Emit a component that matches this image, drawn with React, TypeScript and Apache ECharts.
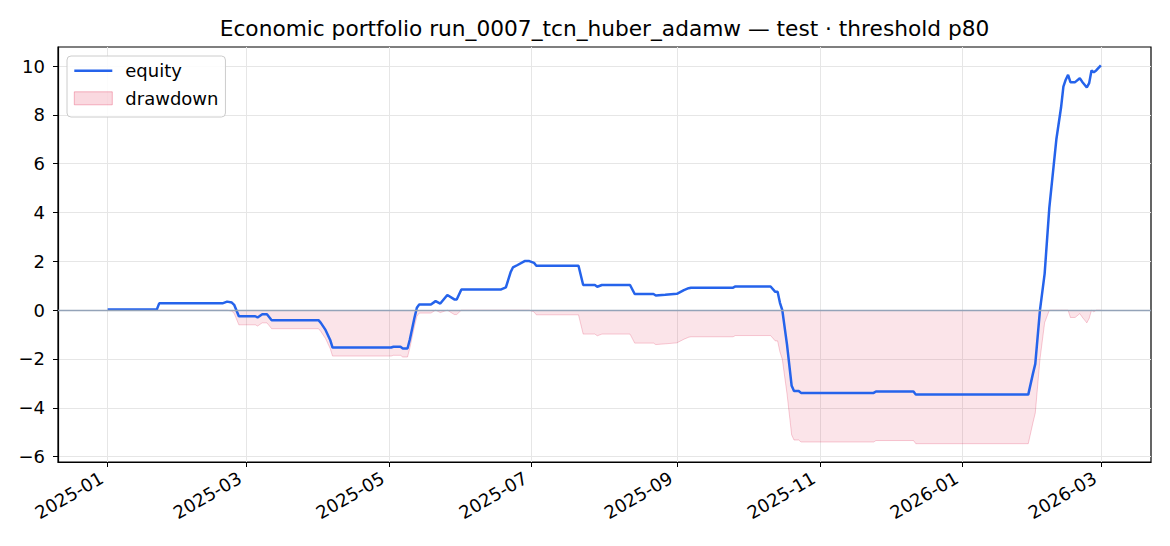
import React, { useEffect, useRef } from "react";
import * as echarts from "echarts";

const title = "Economic portfolio run_0007_tcn_huber_adamw — test · threshold p80";

const dates = [
  "2025-01-01", "2025-01-22", "2025-01-23", "2025-02-19", "2025-02-21", "2025-02-23", "2025-02-24", "2025-02-26",
  "2025-03-05", "2025-03-06", "2025-03-08", "2025-03-10", "2025-03-12", "2025-04-01", "2025-04-02", "2025-04-04",
  "2025-04-06", "2025-04-07", "2025-05-02", "2025-05-03", "2025-05-06", "2025-05-07", "2025-05-09", "2025-05-10",
  "2025-05-12", "2025-05-13", "2025-05-14", "2025-05-19", "2025-05-21", "2025-05-23", "2025-05-26", "2025-05-29",
  "2025-05-30", "2025-06-01", "2025-06-18", "2025-06-20", "2025-06-22", "2025-06-23", "2025-06-25", "2025-06-28",
  "2025-06-30", "2025-07-02", "2025-07-03", "2025-07-21", "2025-07-23", "2025-07-28", "2025-07-29", "2025-07-31",
  "2025-08-12", "2025-08-14", "2025-08-22", "2025-08-23", "2025-08-27", "2025-09-01", "2025-09-04", "2025-09-06",
  "2025-09-07", "2025-09-25", "2025-09-26", "2025-10-11", "2025-10-13", "2025-10-14", "2025-10-15", "2025-10-16",
  "2025-10-18", "2025-10-20", "2025-10-21", "2025-10-23", "2025-10-24", "2025-11-24", "2025-11-25", "2025-12-11",
  "2025-12-12", "2026-01-29", "2026-01-31", "2026-02-01", "2026-02-03", "2026-02-05", "2026-02-07", "2026-02-10",
  "2026-02-12", "2026-02-13", "2026-02-14", "2026-02-15", "2026-02-16", "2026-02-18", "2026-02-20", "2026-02-21",
  "2026-02-23", "2026-02-24", "2026-02-25", "2026-02-26", "2026-02-27", "2026-03-01",
];

const equity = [
  0.03, 0.03, 0.28, 0.28, 0.35, 0.31, 0.22, -0.25,
  -0.25, -0.3, -0.17, -0.17, -0.41, -0.41, -0.52, -0.81,
  -1.22, -1.53, -1.53, -1.5, -1.5, -1.57, -1.57, -1.2,
  -0.3, 0.1, 0.23, 0.23, 0.37, 0.27, 0.62, 0.44,
  0.44, 0.85, 0.85, 0.93, 1.55, 1.75, 1.85, 2.01,
  2.01, 1.94, 1.82, 1.82, 1.03, 1.03, 0.96, 1.03,
  1.03, 0.66, 0.66, 0.6, 0.63, 0.67, 0.82, 0.9,
  0.92, 0.92, 0.97, 0.97, 0.75, 0.75, 0.3, 0.0,
  -1.4, -3.1, -3.31, -3.31, -3.39, -3.39, -3.33, -3.33,
  -3.46, -3.46, -2.6, -2.2, 0.0, 1.5, 4.2, 7.0,
  8.3, 9.16, 9.44, 9.64, 9.34, 9.34, 9.5, 9.36,
  9.12, 9.3, 9.82, 9.75, 9.82, 10.03,
];

const drawdown = [
  0, 0, 0, 0, 0, -0.04, -0.13, -0.6,
  -0.6, -0.65, -0.52, -0.52, -0.76, -0.76, -0.87, -1.16,
  -1.57, -1.88, -1.88, -1.85, -1.85, -1.92, -1.92, -1.55,
  -0.65, -0.25, -0.12, -0.12, 0, -0.1, 0, -0.18,
  -0.18, 0, 0, 0, 0, 0, 0, 0,
  0, -0.07, -0.19, -0.19, -0.98, -0.98, -1.05, -0.98,
  -0.98, -1.35, -1.35, -1.41, -1.38, -1.34, -1.19, -1.11,
  -1.09, -1.09, -1.04, -1.04, -1.26, -1.26, -1.71, -2.01,
  -3.41, -5.11, -5.32, -5.32, -5.4, -5.4, -5.34, -5.34,
  -5.47, -5.47, -4.61, -4.21, -2.01, -0.51, 0, 0,
  0, 0, 0, 0, -0.3, -0.3, -0.14, -0.28,
  -0.52, -0.34, 0, -0.07, 0, 0,
];

const xTickLabels = ["2025-01", "2025-03", "2025-05", "2025-07", "2025-09", "2025-11", "2026-01", "2026-03"];
const yTickValues = [-6, -4, -2, 0, 2, 4, 6, 8, 10];

const FONT = "'DejaVu Sans', 'Liberation Sans', sans-serif";

function toTime(s: string): number {
  const [y, m, d] = s.split("-").map(Number);
  return Date.UTC(y, m - 1, d || 1);
}

export default function App() {
  const ref = useRef<HTMLDivElement>(null);

  useEffect(() => {
    if (!ref.current) return;
    const chart = echarts.init(ref.current, null, { renderer: "svg" });
    const xTicks = xTickLabels.map(toTime);
    const xs = dates.map(toTime);
    const DAY = 86400000;

    chart.setOption({
      animation: false,
      textStyle: { fontFamily: FONT },
      graphic: [
        {
          type: "text",
          x: 604.5,
          y: 28.5,
          z: 10,
          style: {
            text: title,
            font: `21.7px ${FONT}`,
            fill: "#000",
            textAlign: "center",
            textVerticalAlign: "middle",
          },
        },
      ],
      legend: {
        orient: "vertical",
        left: 67,
        top: 56,
        data: [
          {
            name: "equity",
            itemStyle: { opacity: 0 },
            lineStyle: { color: "#2563eb", width: 2.6, opacity: 1 },
          },
          {
            name: "drawdown",
            icon: "rect",
            itemStyle: {
              color: "rgba(225,29,72,0.17)",
              borderColor: "rgba(225,29,72,0.3)",
              borderWidth: 1,
            },
          },
        ],
        itemWidth: 38,
        itemHeight: 13,
        itemGap: 9.6,
        padding: [5.7, 7, 9.7, 6],
        backgroundColor: "rgba(255,255,255,0.85)",
        borderColor: "#cccccc",
        borderWidth: 1,
        borderRadius: 4,
        textStyle: {
          fontSize: 18,
          lineHeight: 18,
          color: "#000",
          fontFamily: FONT,
          padding: [0, 0, 0, 8],
        },
      },
      grid: {
        left: 58,
        right: 19,
        top: 47,
        bottom: 84,
        show: true,
        borderColor: "#000",
        borderWidth: 1.2,
        backgroundColor: "transparent",
      },
      xAxis: {
        type: "value",
        min: xTicks[0] - 21.2 * DAY,
        max: xTicks[xTicks.length - 1] + 21.4 * DAY,
        axisLine: { show: true, onZero: false, lineStyle: { color: "#000", width: 1.2 } },
        axisTick: { show: true, customValues: xTicks, length: 5, lineStyle: { color: "#000", width: 1 } },
        axisLabel: {
          customValues: xTicks,
          formatter: (v: number) => {
            const i = xTicks.indexOf(v);
            return i >= 0 ? xTickLabels[i] : "";
          },
          rotate: 30,
          margin: 11,
          padding: [0, 7, 0, 0],
          fontSize: 18,
          color: "#000",
          fontFamily: FONT,
        },
        splitLine: { show: true, lineStyle: { color: "#e6e6e6", width: 1 } },
      },
      yAxis: {
        type: "value",
        min: -6.22,
        max: 10.78,
        axisLine: { show: true, lineStyle: { color: "#000", width: 1.2 } },
        axisTick: { show: true, customValues: yTickValues, length: 5, lineStyle: { color: "#000", width: 1 } },
        axisLabel: {
          customValues: yTickValues,
          formatter: (v: number) => (v < 0 ? "\u2212" + Math.abs(v) : String(v)),
          margin: 13,
          fontSize: 18,
          color: "#000",
          fontFamily: FONT,
        },
        splitLine: { show: true, lineStyle: { color: "#e6e6e6", width: 1 } },
      },
      series: [
        {
          name: "drawdown",
          type: "line",
          data: xs.map((x, i) => [x, drawdown[i]]),
          symbol: "none",
          z: 2,
          lineStyle: { color: "rgba(225,29,72,0.22)", width: 1 },
          itemStyle: { color: "rgba(225,29,72,0.17)" },
          areaStyle: { color: "rgba(225,29,72,0.17)" },
          markLine: {
            silent: true,
            symbol: ["none", "none"],
            label: { show: false },
            lineStyle: { color: "#94a3b8", width: 1.3, type: "solid" },
            data: [{ yAxis: 0 }],
          },
        },
        {
          name: "equity",
          type: "line",
          data: xs.map((x, i) => [x, equity[i]]),
          symbol: "none",
          z: 3,
          lineStyle: { color: "#2563eb", width: 2.5 },
          itemStyle: { color: "#2563eb" },
        },
      ],
    });

    return () => chart.dispose();
  }, []);

  return (
    <div
      ref={ref}
      style={{ position: "fixed", left: 0, top: 0, width: 1170, height: 546, background: "#fff" }}
    />
  );
}
